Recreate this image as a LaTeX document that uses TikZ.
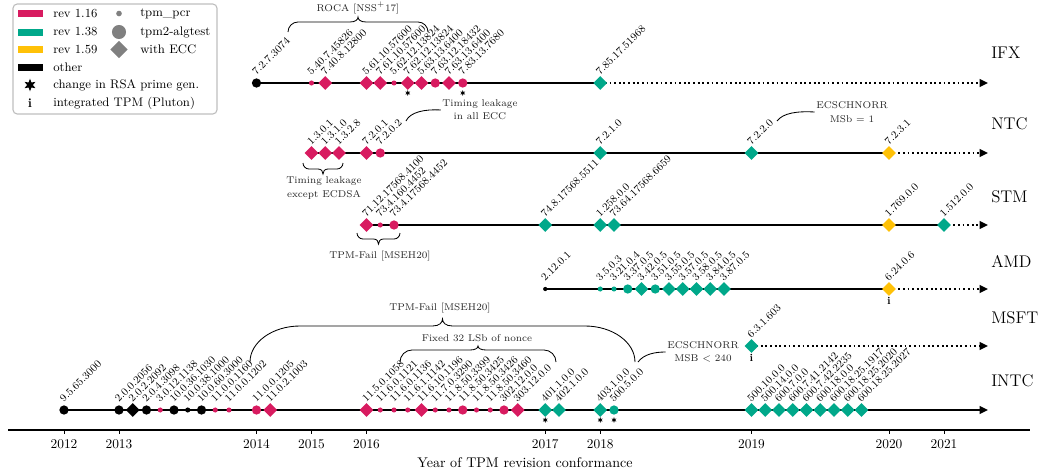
\documentclass[tikz,border=0pt]{standalone}
\usetikzlibrary{shapes.geometric,arrows.meta,backgrounds}
\definecolor{pk}{HTML}{D81B60}
\definecolor{gr}{HTML}{00A88A}
\definecolor{yl}{HTML}{FFC107}
\definecolor{bk}{HTML}{000000}
\definecolor{lgr}{HTML}{808080}
\newcommand{\tlbrace}[7]{%
  \draw[brc] (#1,#3) .. controls (#1,{#3+0.55*(#4-#3)}) and ({#1+0.45*#6},#4) .. ({#1+#6},#4)
    -- ({(#1+#2)/2-#7},#4) .. controls ({(#1+#2)/2-0.3*#7},#4) and ({(#1+#2)/2},{(#4+#5)/2}) .. ({(#1+#2)/2},#5)
    .. controls ({(#1+#2)/2},{(#4+#5)/2}) and ({(#1+#2)/2+0.3*#7},#4) .. ({(#1+#2)/2+#7},#4)
    -- ({#2-#6},#4) .. controls ({#2-0.45*#6},#4) and (#2,{#3+0.55*(#4-#3)}) .. (#2,#3);}
\newcommand{\tlrow}[3]{%
  \foreach \pos/\mk/\col/\txt [count=\cnt] in {#3}{%
    \node[\mk,fill=\col] (#1\cnt) at ({64+13.75*\pos},#2) {};
    \node[lbl] (#1l\cnt) at ({64+13.75*\pos},{#2-6}) {\txt};
  }}
\tikzset{
  mpcr/.style={circle,inner sep=0pt,minimum size=3.6pt},
  malg/.style={circle,inner sep=0pt,minimum size=6.6pt},
  mecc/.style={diamond,inner sep=0pt,minimum size=9.8pt},
  mtiny/.style={circle,inner sep=0pt,minimum size=3pt},
  lbl/.style={rotate=45,anchor=south west,inner sep=0.4pt,font=\fontsize{7.5}{8}\selectfont},
  rowline/.style={line width=1.3pt},
  rowdots/.style={line width=1.3pt,dotted,-{Triangle[length=6pt,width=5.5pt]}},
  rowarrow/.style={line width=1.3pt,-{Triangle[length=6pt,width=5.5pt]}},
  rowlab/.style={anchor=west,inner sep=0pt,font=\fontsize{12}{14}\selectfont},
  starm/.style={star,star points=6,star point ratio=2.2,fill=black,inner sep=0pt,minimum size=4pt},
  infoi/.style={inner sep=0pt,font=\bfseries\fontsize{7.5}{8}\selectfont},
  ann/.style={align=center,inner sep=1pt,text=black!85,font=\fontsize{7}{9.5}\selectfont},
  brc/.style={line width=0.6pt},
  legtxt/.style={anchor=west,inner sep=0pt,font=\fontsize{8.8}{10}\selectfont},
  yrlab/.style={inner sep=0pt,font=\fontsize{9.5}{11}\selectfont},
}
\begin{document}
\begin{tikzpicture}[x=0.025cm,y=-0.025cm]
\useasboundingbox (0,0) rectangle (1042,475);

% ---------------- legend
\draw[draw=black!25,line width=0.8pt,rounded corners=3pt,fill=white] (13,4) rectangle (217,114);
\fill[pk] (18,10) rectangle (43,17);
\fill[gr] (18,28.5) rectangle (43,35.5);
\fill[yl] (18,46) rectangle (43,53);
\fill[bk] (18,63.5) rectangle (43,70.5);
\node[legtxt] (lg1) at (53,13.5) {rev 1.16};
\node[legtxt] (lg2) at (53,32) {rev 1.38};
\node[legtxt] (lg3) at (53,49.5) {rev 1.59};
\node[legtxt] (lg4) at (53,67) {other};
\node[legtxt] (lg5) at (53,85) {change in RSA prime gen.};
\node[legtxt] (lg6) at (53,103) {integrated TPM (Pluton)};
\node[mpcr,fill=lgr,minimum size=4pt] (lm1) at (119,13.5) {};
\node[malg,fill=lgr,minimum size=10pt] (lm2) at (119,32) {};
\node[mecc,fill=lgr,minimum size=12.5pt] (lm3) at (119,49.5) {};
\node[legtxt] (lg7) at (140,13.5) {tpm\_pcr};
\node[legtxt] (lg8) at (140,32) {tpm2-algtest};
\node[legtxt] (lg9) at (140,49.5) {with ECC};
\node[starm,minimum size=9pt] (lst) at (30,85) {};
\node[infoi,font=\bfseries\fontsize{9}{10}\selectfont] (li) at (30,103) {i};

% ---------------- rows
\tlrow{ifx}{83}{14/malg/bk/7.2.7.3074, 18/mpcr/pk/5.40.7.45826, 19/mecc/pk/7.40.8.12800, 22/mecc/pk/5.61.10.57600, 23/mecc/pk/7.61.10.57600, 24/mpcr/pk/5.62.12.13824, 25/mecc/pk/7.62.12.13824, 26/mecc/pk/5.63.13.6400, 27/malg/pk/7.63.12.18432, 28/mecc/pk/7.63.13.6400, 29/malg/pk/7.83.13.7680, 39/mecc/gr/7.85.17.51968}
\tlrow{ntc}{153}{18/mecc/pk/1.3.0.1, 19/mecc/pk/1.3.1.0, 20/mecc/pk/1.3.2.8, 22/mecc/pk/7.2.0.1, 23/malg/pk/7.2.0.2, 39/mecc/gr/7.2.1.0, 50/mecc/gr/7.2.2.0, 60/mecc/yl/7.2.3.1}
\tlrow{stm}{225}{22/mecc/pk/71.12.17568.4100, 23/mpcr/pk/73.4.160.4452, 24/malg/pk/73.4.17568.4452, 35/mecc/gr/74.8.17568.5511, 39/mecc/gr/1.258.0.0, 40/mecc/gr/73.64.17568.6659, 60/mecc/yl/1.769.0.0, 64/mecc/gr/1.512.0.0}
\tlrow{amd}{289}{35/mtiny/bk/2.12.0.1, 39/mpcr/gr/3.5.0.3, 40/mpcr/gr/3.21.0.4, 41/malg/gr/3.37.0.5, 42/mecc/gr/3.42.0.5, 43/malg/gr/3.51.0.5, 44/mecc/gr/3.55.0.5, 45/mecc/gr/3.57.0.5, 46/mecc/gr/3.58.0.5, 47/mecc/gr/3.84.0.5, 48/mecc/gr/3.87.0.5, 60/mecc/yl/6.24.0.6}
\tlrow{msft}{346}{50/mecc/gr/6.3.1.603}
\tlrow{intc}{410}{0/malg/bk/9.5.65.3000, 4/malg/bk/2.0.0.2056, 5/mecc/bk/2.0.2.2092, 6/malg/bk/2.0.4.3098, 7/mpcr/pk/3.0.12.1138, 8/malg/bk/10.0.36.1030, 9/mpcr/bk/10.0.38.1000, 10/malg/bk/10.0.60.3000, 11/mpcr/pk/11.0.0.1160, 12/mpcr/pk/11.0.0.1202, 14/malg/pk/11.0.0.1205, 15/mecc/pk/11.0.2.1003, 22/mecc/pk/11.5.0.1058, 23/mpcr/pk/11.6.0.1121, 24/mpcr/pk/11.6.0.1136, 25/mpcr/pk/11.6.1.1142, 26/mecc/pk/11.6.10.1196, 27/mpcr/pk/11.7.0.3290, 28/mpcr/pk/11.8.50.3399, 29/malg/pk/11.8.50.3425, 30/mpcr/pk/11.8.50.3426, 31/mpcr/pk/11.8.50.3460, 32/malg/pk/302.12.0.0, 33/mecc/pk/303.12.0.0, 35/mecc/gr/401.1.0.0, 36/mecc/gr/402.1.0.0, 39/mecc/gr/403.1.0.0, 40/malg/gr/500.5.0.0, 50/mecc/gr/500.10.0.0, 51/mecc/gr/500.14.0.0, 52/mecc/gr/600.7.0.0, 53/mecc/gr/600.7.41.2142, 54/mecc/gr/600.7.42.2235, 55/mecc/gr/600.18.0.0, 56/mecc/gr/600.18.25.1917, 57/mecc/gr/600.18.25.2020, 58/mecc/gr/600.18.25.2027}

\coordinate (ifxend) at (988,83);
\coordinate (ntcend) at (988,153);
\coordinate (stmend) at (988,225);
\coordinate (amdend) at (988,289);
\coordinate (msftend) at (988,346);
\coordinate (intcend) at (988,410);

\begin{scope}[on background layer]
\draw[rowline] (ifx1.center) -- (ifx12.center);
\draw[rowdots] (ifx12.center) -- (ifxend);
\draw[rowline] (ntc1.center) -- (ntc8.center);
\draw[rowdots] (ntc8.center) -- (ntcend);
\draw[rowline] (stm1.center) -- (stm8.center);
\draw[rowdots] (stm8.center) -- (stmend);
\draw[rowline] (amd1.center) -- (amd12.center);
\draw[rowdots] (amd12.center) -- (amdend);
\draw[rowdots] (msft1.center) -- (msftend);
\draw[rowarrow] (intc1.center) -- (intcend);
\end{scope}

\node[rowlab] (nifx) at (991,53) {IFX};
\node[rowlab] (nntc) at (991,124) {NTC};
\node[rowlab] (nstm) at (991,197) {STM};
\node[rowlab] (namd) at (991,261) {AMD};
\node[rowlab] (nmsft) at (991,318) {MSFT};
\node[rowlab] (nintc) at (991,381) {INTC};

% stars and integrated marks
\node[starm] (st1) at ({64+13.75*25},93) {};
\node[starm] (st2) at ({64+13.75*29},93) {};
\node[starm] (st3) at ({64+13.75*35},420) {};
\node[starm] (st4) at ({64+13.75*39},420) {};
\node[starm] (st5) at ({64+13.75*40},420) {};
\node[infoi] (ii1) at ({64+13.75*60},301) {i};
\node[infoi] (ii2) at ({64+13.75*50},358) {i};

% braces and annotations
\tlbrace{288}{428}{32}{22}{17}{10}{8}
\tlbrace{303}{343}{163}{169}{174}{6}{5}
\tlbrace{357}{400}{233}{239}{244}{6}{5}
\tlbrace{250}{635}{362}{326}{319}{50}{10}
\tlbrace{400}{556}{362}{350}{346}{12}{8}
\node[ann] (troca) at (358,8) {ROCA [NSS\textsuperscript{+}17]};
\node[ann] (tecdsa) at (324,188) {Timing leakage\\except ECDSA};
\node[ann] (tfail1) at (380,256) {TPM-Fail [MSEH20]};
\node[ann] (tfail2) at (440,308) {TPM-Fail [MSEH20]};
\node[ann] (tfixed) at (477,338) {Fixed 32 LSb of nonce};
\node[ann] (tecc) at (480,110) {Timing leakage\\in all ECC};
\node[ann] (tms1) at (852,112) {ECSCHNORR\\MSb $=$ 1};
\node[ann] (tms2) at (703,352) {ECSCHNORR\\MSB $<$ 240};
\coordinate (cecc) at (406,121);
\coordinate (cms1) at (777,121);
\coordinate (cms2) at (638,362);
\draw[brc] (cecc) .. controls (410,112) and (425,109) .. (tecc.west);
\draw[brc] (cms1) .. controls (783,113) and (797,111) .. (tms1.west);
\draw[brc] (cms2) .. controls (644,354) and (655,352) .. (tms2.west);

% axis
\draw[line width=1pt] (8,430) -- (1030,430);
\foreach \yr/\pos in {2012/0,2013/4,2014/14,2015/18,2016/22,2017/35,2018/39,2019/50,2020/60,2021/64}{
  \draw[line width=0.6pt] ({64+13.75*\pos},430) -- ({64+13.75*\pos},434);
  \node[yrlab] (y\yr) at ({64+13.75*\pos},444) {\yr};
}
\node[font=\fontsize{10}{12}\selectfont,inner sep=0pt] (xlab) at (525,463) {Year of TPM revision conformance};
\end{tikzpicture}
\end{document}
